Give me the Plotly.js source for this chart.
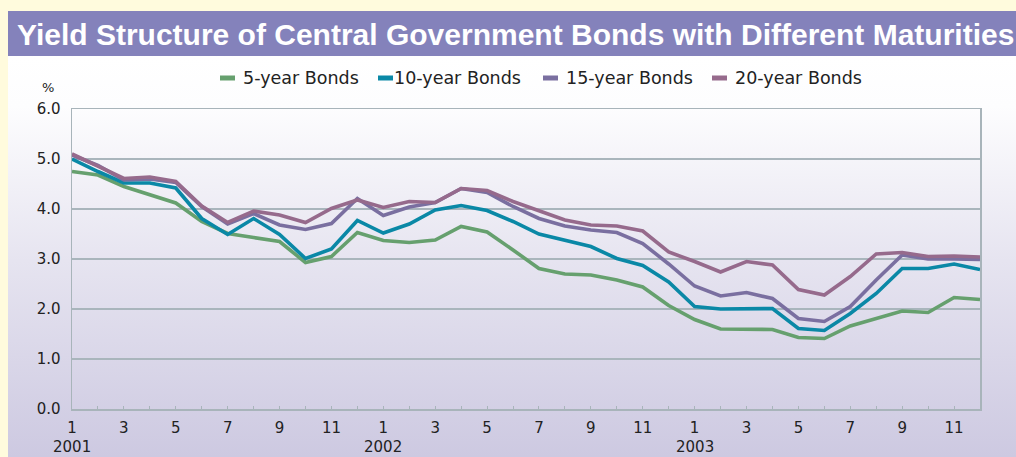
<!DOCTYPE html>
<html>
<head>
<meta charset="utf-8">
<script src="https://cdn.plot.ly/plotly-3.0.1.min.js"></script>
<style>
  html, body { margin:0; padding:0; width:1016px; height:457px; overflow:hidden; background:#fffbdd; }
  #bg { position:absolute; left:8px; top:11px; width:1008px; height:446px;
        background: linear-gradient(to bottom, #8482bb 0px, #8482bb 45px, #ffffff 45px, #fdfdfe 95px, #e6e4f0 250px, #cdc9e1 446px); }
  #chart { position:absolute; left:0; top:0; width:1016px; height:457px; }
</style>
</head>
<body>
<div id="bg"></div>
<div id="chart"></div>
<script>
// ---- data ----
const seriesNames = ["5-year Bonds", "10-year Bonds", "15-year Bonds", "20-year Bonds"];
const months = ["2001-01","2001-02","2001-03","2001-04","2001-05","2001-06","2001-07","2001-08","2001-09","2001-10","2001-11","2001-12",
                "2002-01","2002-02","2002-03","2002-04","2002-05","2002-06","2002-07","2002-08","2002-09","2002-10","2002-11","2002-12",
                "2003-01","2003-02","2003-03","2003-04","2003-05","2003-06","2003-07","2003-08","2003-09","2003-10","2003-11","2003-12"];
const tickLabels = ["1","","3","","5","","7","","9","","11","",
                    "1","","3","","5","","7","","9","","11","",
                    "1","","3","","5","","7","","9","","11",""];
const yearLabels = ["2001", "2002", "2003"];
const yearStartMonths = ["2001-01", "2002-01", "2003-01"];
const bonds5  = [4.75,4.68,4.45,4.29,4.12,3.75,3.51,3.43,3.35,2.93,3.05,3.53,3.37,3.33,3.38,3.65,3.54,3.18,2.81,2.70,2.68,2.58,2.44,2.07,1.79,1.60,1.59,1.59,1.43,1.41,1.66,1.81,1.96,1.93,2.23,2.19];
const bonds10 = [5.00,4.75,4.52,4.52,4.42,3.81,3.49,3.81,3.49,3.01,3.20,3.77,3.52,3.70,3.98,4.07,3.97,3.75,3.50,3.38,3.25,3.01,2.87,2.54,2.05,2.00,2.01,2.01,1.61,1.57,1.91,2.31,2.81,2.81,2.90,2.79];
const bonds15 = [5.08,4.87,4.58,4.60,4.53,4.05,3.70,3.91,3.68,3.59,3.71,4.21,3.87,4.04,4.13,4.41,4.33,4.05,3.81,3.66,3.58,3.53,3.31,2.90,2.46,2.26,2.33,2.21,1.81,1.75,2.05,2.58,3.08,3.00,3.00,2.99];
const bonds20 = [5.10,4.85,4.61,4.64,4.55,4.06,3.73,3.96,3.88,3.73,4.01,4.18,4.03,4.15,4.13,4.41,4.37,4.15,3.96,3.78,3.68,3.66,3.56,3.14,2.95,2.74,2.95,2.88,2.39,2.28,2.65,3.10,3.13,3.05,3.06,3.04];

// ---- styles ----
const lineColors = ["#66a06e", "#0a88a6", "#7a6fa0", "#966a8c"];
const seriesData = [bonds5, bonds10, bonds15, bonds20];
const W = 1016, H = 457;
const M = {l:72, r:36, t:109, b:48};
const PW = W - M.l - M.r, PH = H - M.t - M.b;
const px2x = p => (p - M.l) / PW;
const py2y = p => 1 - (p - M.t) / PH;
const font = "DejaVu Sans, Verdana, sans-serif";

const traces = seriesData.map((vals, i) => ({
  type: "scatter", mode: "lines", name: seriesNames[i],
  x: months, y: vals,
  line: {color: lineColors[i], width: 3.6},
  showlegend: false, hoverinfo: "x+y+name"
}));

// custom legend (small rectangle swatches like the original)
const legendSwatchX = [220, 378, 543, 712];
const legendY = 78;
const shapes = [];
const annotations = [];
seriesNames.forEach((n, i) => {
  shapes.push({type:"rect", xref:"paper", yref:"paper",
    x0: px2x(legendSwatchX[i]), x1: px2x(legendSwatchX[i] + 15),
    y0: py2y(legendY - 2.5), y1: py2y(legendY + 2.5),
    fillcolor: lineColors[i], line:{width:0}});
  annotations.push({xref:"paper", yref:"paper", x: px2x(legendSwatchX[i] + (i === 1 ? 14 : 21)), y: py2y(legendY),
    xanchor:"left", yanchor:"middle", showarrow:false, text:n,
    font:{family:font, size:17.5, color:"#222"}});
});
annotations.push({xref:"paper", yref:"paper", x: px2x(48), y: py2y(88), xanchor:"center", yanchor:"middle",
  showarrow:false, text:"%", font:{family:font, size:13, color:"#222"}});
yearLabels.forEach((yl, i) => {
  annotations.push({xref:"x", yref:"paper", x: yearStartMonths[i], y: py2y(447), xanchor:"center", yanchor:"middle",
    showarrow:false, text: yl, font:{family:font, size:15, color:"#222"}});
});

const layout = {
  width: W, height: H,
  margin: M,
  paper_bgcolor: "rgba(0,0,0,0)",
  plot_bgcolor: "rgba(0,0,0,0)",
  showlegend: false,
  title: {text: "Yield Structure of Central Government Bonds with Different Maturities",
          xref:"container", yref:"container", x: 17/W, xanchor:"left", y: 1 - 34/H, yanchor:"middle",
          font:{family:"Liberation Sans, Arial, sans-serif", size:30, color:"#ffffff", weight:"bold"}},
  xaxis: {
    type:"category", range:[0, months.length - 1],
    tickmode:"array", tickvals: months, ticktext: tickLabels,
    ticks:"inside", ticklen:3, tickwidth:1, tickcolor:"#a8b4ba",
    showline:true, linecolor:"#a8b4ba", linewidth:1.5, mirror:true,
    showgrid:false, zeroline:false, tickangle:0, ticklabelstandoff: 4,
    tickfont:{family:font, size:15, color:"#222"}
  },
  yaxis: {
    range:[0, 6], dtick:1, tick0:0, tickformat:".1f",
    ticks:"", showline:true, linecolor:"#a8b4ba", linewidth:1.5, mirror:true,
    showgrid:true, gridcolor:"#a9b5bc", gridwidth:1.5, zeroline:false,
    ticklabelstandoff: 7,
    tickfont:{family:font, size:15, color:"#222"}
  },
  shapes: shapes,
  annotations: annotations
};

Plotly.newPlot("chart", traces, layout, {staticPlot:true, displayModeBar:false});
</script>
</body>
</html>
